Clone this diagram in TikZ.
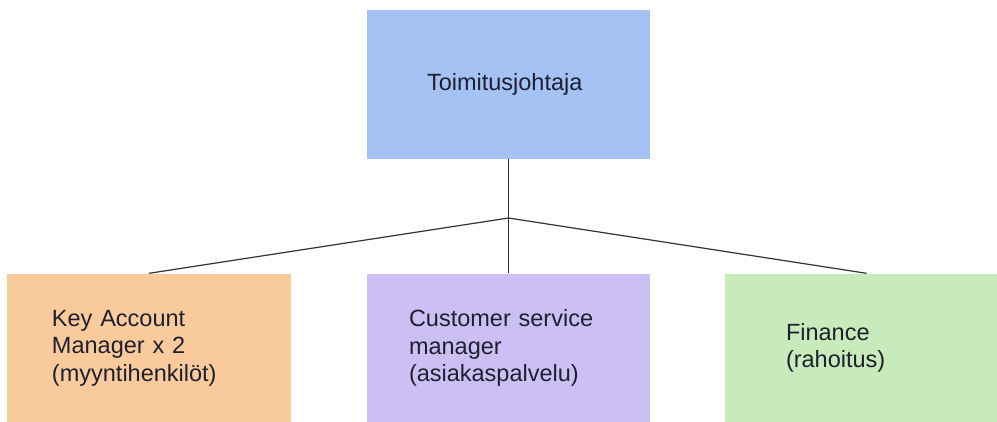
\documentclass[tikz,border=0pt]{standalone}
\usepackage{fontspec}
\setmainfont{Liberation Sans}
\definecolor{ceoblue}{HTML}{A4C2F4}
\definecolor{salesorange}{HTML}{F9CB9C}
\definecolor{servicepurple}{HTML}{CBBFF4}
\definecolor{financegreen}{HTML}{C7EBBA}
\definecolor{labeltext}{HTML}{1E2030}
\definecolor{linkgray}{HTML}{333333}
\tikzset{
  x=1bp, y=-1bp,
  orgbox/.style={draw=none, rectangle, minimum height=149bp, align=left,
    text=labeltext, font=\fontsize{23.5bp}{27.5bp}\selectfont, inner ysep=0pt},
  link/.style={draw=linkgray, line width=1.2bp}
}
\begin{document}
\begin{tikzpicture}
  \useasboundingbox (0,0) rectangle (997,421);
  \clip (0,0) rectangle (997,421);
  \fill[white] (0,0) rectangle (997,421);

  % managing director
  \node[orgbox, fill=ceoblue, text width=163bp, inner xsep=60bp] (ceo) at (508.5,84.5) {Toimitusjohtaja};

  % reporting units
  \node[orgbox, fill=salesorange, text width=194bp, inner xsep=45bp] (kam) at (149,348)
    {Key Account\\Manager x 2\\(myyntihenkilöt)};
  \node[orgbox, fill=servicepurple, text width=199bp, inner xsep=42bp] (csm) at (508.5,348)
    {Customer service\\manager\\(asiakaspalvelu)};
  \node[orgbox, fill=financegreen, text width=161bp, inner xsep=61bp] (fin) at (866.5,348)
    {Finance\\(rahoitus)};

  % branching point below the director
  \coordinate (split) at (508.5,218);

  \draw[link] (ceo.south) -- (split);
  \draw[link] (split) -- (kam.north);
  \draw[link] (split) -- (csm.north);
  \draw[link] (split) -- (fin.north);
\end{tikzpicture}
\end{document}
